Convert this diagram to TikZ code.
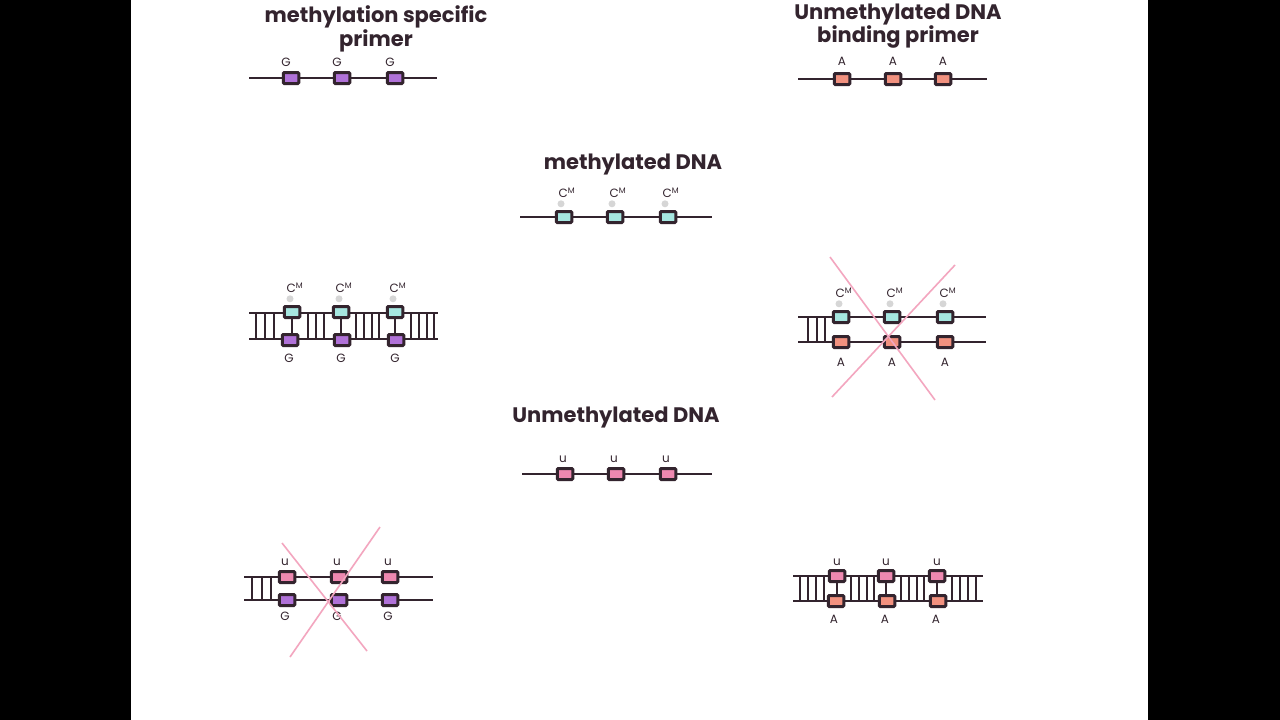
\documentclass[tikz,border=0pt]{standalone}
\usepackage{fontspec}
\setmainfont{Poppins}
\usetikzlibrary{positioning}
\definecolor{ink}{HTML}{33242E}
\definecolor{gpurple}{HTML}{B071D8}
\definecolor{asalmon}{HTML}{F2917F}
\definecolor{ccyan}{HTML}{A6E6E0}
\definecolor{upink}{HTML}{EE88B0}
\definecolor{xpink}{HTML}{F3A6BF}
\definecolor{mgrey}{HTML}{D6D6D6}
\begin{document}
\begin{tikzpicture}[x=1pt, y=-1pt,
  strandline/.style={draw=ink, line width=2.8pt},
  rung/.style={draw=ink, line width=2.2pt},
  base/.style={draw=ink, line width=3pt, minimum width=15.5pt, minimum height=11pt, inner sep=0pt, rounded corners=1pt},
  gbox/.style={base, fill=gpurple},
  abox/.style={base, fill=asalmon},
  cbox/.style={base, fill=ccyan},
  ubox/.style={base, fill=upink},
  letter/.style={text=ink, font=\fontsize{12}{12}\selectfont, inner sep=0pt},
  heading/.style={text=ink, font=\fontsize{21}{21}\selectfont\bfseries, align=center, inner sep=0pt},
  methyl/.style={circle, fill=mgrey, minimum size=7pt, inner sep=0pt},
  cross/.style={draw=xpink, line width=1.6pt}
]
% frame
\fill [black] (0,0) rectangle (1280,720);
\fill [white] (131,0) rectangle (1148,720);

% methylation specific primer
\node [heading] (msptitle) at (376,29) {methylation specific\\primer};
\coordinate (msp-l) at (249,78);
\coordinate (msp-r) at (437,78);
\draw [strandline] (msp-l) -- (msp-r);
\foreach \n/\x in {1/291,2/342,3/395} {
  \node [gbox] (msp\n) at (\x,78) {};
  \node [letter, above=4pt of msp\n, xshift=-5pt] (msp\n-g) {G};
}

% unmethylated DNA binding primer
\node [heading] (ubptitle) at (898,26) {Unmethylated DNA\\binding primer};
\coordinate (ubp-l) at (798,79);
\coordinate (ubp-r) at (987,79);
\draw [strandline] (ubp-l) -- (ubp-r);
\foreach \n/\x in {1/842,2/893,3/943} {
  \node [abox] (ubp\n) at (\x,79) {};
  \node [letter, above=6pt of ubp\n] (ubp\n-a) {A};
}

% methylated DNA
\node [heading] (mdtitle) at (633,165) {methylated DNA};
\coordinate (md-l) at (520,217);
\coordinate (md-r) at (712,217);
\draw [strandline] (md-l) -- (md-r);
\foreach \n/\x in {1/564,2/615,3/668} {
  \node [cbox] (md\n) at (\x,217) {};
  \node [methyl, above=2.5pt of md\n, xshift=-3pt] (md\n-dot) {};
  \node [letter, above=12pt of md\n, xshift=3pt] (md\n-c) {C\textsuperscript{M}};
}

% methylated DNA + methylation specific primer
\coordinate (lt-l) at (249,313);
\coordinate (lt-r) at (438,313);
\coordinate (lb-l) at (249,339);
\coordinate (lb-r) at (438,339);
\foreach \x in {256,265,274,308,316,324,356,364,372,379,411,419,427,434}
  \draw [rung] (\x,313) -- (\x,339);
\draw [strandline] (lt-l) -- (lt-r);
\draw [strandline] (lb-l) -- (lb-r);
\foreach \n/\x/\y in {1/292/290,2/341/342,3/395/396} {
  \node [cbox] (lt\n) at (\x,312) {};
  \node [gbox] (lb\n) at (\y,340) {};
  \draw [strandline] (lt\n.south) -- (lt\n.south |- lb\n.north);
  \node [methyl, above=2.5pt of lt\n, xshift=-2pt] (lt\n-dot) {};
  \node [letter, above=12pt of lt\n, xshift=3pt] (lt\n-c) {C\textsuperscript{M}};
  \node [letter, below=7pt of lb\n, xshift=-1pt] (lb\n-g) {G};
}

% methylated DNA + unmethylated primer: no binding
\coordinate (rt-l) at (798,317);
\coordinate (rt-r) at (986,317);
\coordinate (rb-l) at (798,342);
\coordinate (rb-r) at (986,342);
\foreach \x in {808,817,825}
  \draw [rung] (\x,317) -- (\x,342);
\draw [strandline] (rt-l) -- (rt-r);
\draw [strandline] (rb-l) -- (rb-r);
\foreach \n/\x in {1/841,2/892,3/945} {
  \node [cbox] (rt\n) at (\x,317) {};
  \node [abox] (rb\n) at (\x,342) {};
  \node [methyl, above=2.5pt of rt\n, xshift=-2pt] (rt\n-dot) {};
  \node [letter, above=12pt of rt\n, xshift=3pt] (rt\n-c) {C\textsuperscript{M}};
  \node [letter, below=9pt of rb\n] (rb\n-a) {A};
}
\coordinate (rx1-a) at (830,257);
\coordinate (rx1-b) at (935,400);
\coordinate (rx2-a) at (955,265);
\coordinate (rx2-b) at (832,397);
\draw [cross] (rx1-a) -- (rx1-b);
\draw [cross] (rx2-a) -- (rx2-b);

% unmethylated DNA
\node [heading] (udtitle) at (616,418) {Unmethylated DNA};
\coordinate (ud-l) at (522,474);
\coordinate (ud-r) at (712,474);
\draw [strandline] (ud-l) -- (ud-r);
\foreach \n/\x in {1/565,2/616,3/668} {
  \node [ubox] (ud\n) at (\x,474) {};
  \node [letter, above=4pt of ud\n, xshift=-2pt] (ud\n-u) {u};
}

% unmethylated DNA + methylation specific primer: no binding
\coordinate (blt-l) at (244,577);
\coordinate (blt-r) at (433,577);
\coordinate (blb-l) at (244,600);
\coordinate (blb-r) at (433,600);
\foreach \x in {252,262,271}
  \draw [rung] (\x,577) -- (\x,600);
\draw [strandline] (blt-l) -- (blt-r);
\draw [strandline] (blb-l) -- (blb-r);
\foreach \n/\x in {1/287,2/339,3/390} {
  \node [ubox] (blt\n) at (\x,577) {};
  \node [gbox] (blb\n) at (\x,600) {};
  \node [letter, above=4pt of blt\n, xshift=-2pt] (blt\n-u) {u};
  \node [letter, below=5pt of blb\n, xshift=-2pt] (blb\n-g) {G};
}
\coordinate (bx1-a) at (282,543);
\coordinate (bx1-b) at (367,651);
\coordinate (bx2-a) at (380,527);
\coordinate (bx2-b) at (290,657);
\draw [cross] (bx1-a) -- (bx1-b);
\draw [cross] (bx2-a) -- (bx2-b);

% unmethylated DNA + unmethylated primer
\coordinate (brt-l) at (793,576);
\coordinate (brt-r) at (983,576);
\coordinate (brb-l) at (793,601);
\coordinate (brb-r) at (983,601);
\foreach \x in {800,808,816,824,851,859,867,874,901,909,917,924,952,960,968,976}
  \draw [rung] (\x,576) -- (\x,601);
\draw [strandline] (brt-l) -- (brt-r);
\draw [strandline] (brb-l) -- (brb-r);
\foreach \n/\x/\y in {1/837/836,2/886/887,3/937/938} {
  \node [ubox] (brt\n) at (\x,576) {};
  \node [abox] (brb\n) at (\y,601) {};
  \draw [strandline] (brt\n.south) -- (brt\n.south |- brb\n.north);
  \node [letter, above=3pt of brt\n] (brt\n-u) {u};
  \node [letter, below=7pt of brb\n, xshift=-2pt] (brb\n-a) {A};
}
\end{tikzpicture}
\end{document}
